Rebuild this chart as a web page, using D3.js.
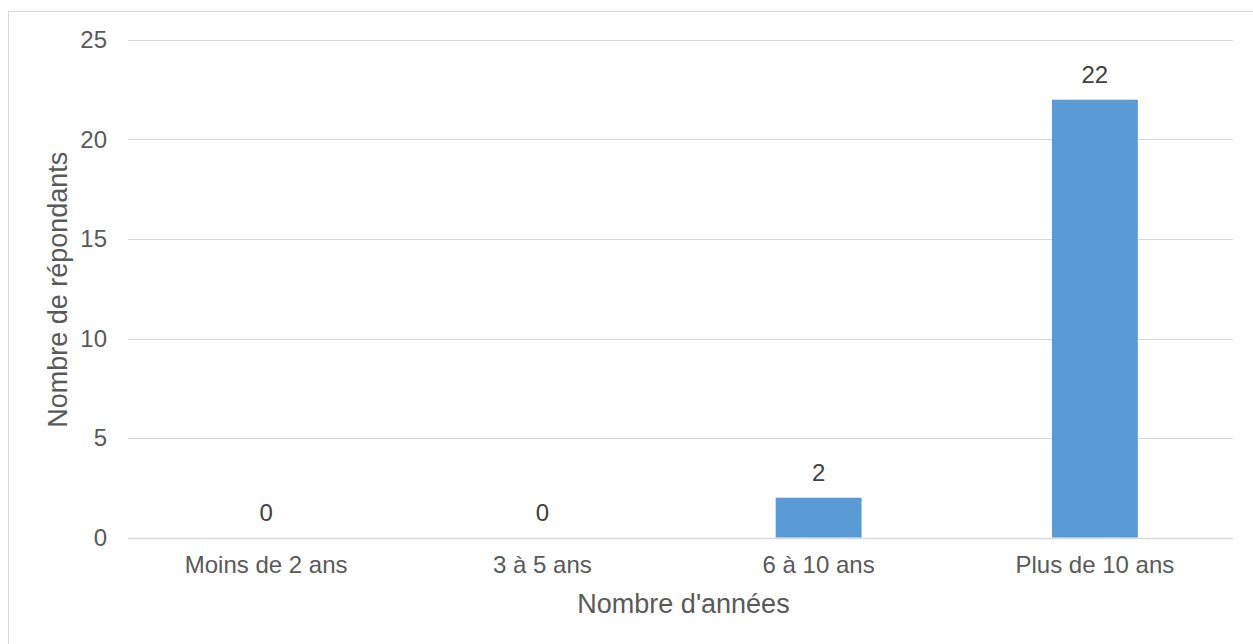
<!DOCTYPE html>
<html>
<head>
<meta charset="utf-8">
<script src="https://cdn.jsdelivr.net/npm/d3@7"></script>
<style>
  html, body { margin: 0; padding: 0; background: #fff; }
  svg { display: block; }
  text { font-family: "Liberation Sans", Arial, sans-serif; }
</style>
</head>
<body>
<svg id="chart" width="1253" height="644"></svg>
<script>
const categories = ["Moins de 2 ans", "3 à 5 ans", "6 à 10 ans", "Plus de 10 ans"];
const values = [0, 0, 2, 22];
const yTicks = [0, 5, 10, 15, 20, 25];
const xTitle = "Nombre d'années";
const yTitle = "Nombre de répondants";

const svg = d3.select("#chart");

// chart frame
svg.append("rect")
  .attr("x", 8.5).attr("y", 11.5)
  .attr("width", 1270).attr("height", 660)
  .attr("fill", "#fff").attr("stroke", "#D9D9D9").attr("stroke-width", 1);

const plot = { left: 128, right: 1233, top: 40, bottom: 537.5 };

const x = d3.scaleBand().domain(categories).range([plot.left, plot.right]).padding(0);
const y = d3.scaleLinear().domain([0, 25]).range([plot.bottom, plot.top]);

// gridlines
svg.append("g").selectAll("line").data(yTicks).join("line")
  .attr("x1", plot.left).attr("x2", plot.right)
  .attr("y1", d => Math.round(y(d)) + 0.5).attr("y2", d => Math.round(y(d)) + 0.5)
  .attr("stroke", "#D9D9D9").attr("stroke-width", d => d === 0 ? 1.5 : 1);

// y tick labels
svg.append("g").selectAll("text").data(yTicks).join("text")
  .attr("x", 107).attr("y", d => y(d))
  .attr("dy", "0.35em")
  .attr("text-anchor", "end")
  .attr("font-size", 24).attr("fill", "#595959")
  .text(d => d);

// bars
const barFrac = 0.311;
svg.append("g").selectAll("rect").data(values).join("rect")
  .attr("x", (d, i) => x(categories[i]) + x.bandwidth() * (1 - barFrac) / 2)
  .attr("width", x.bandwidth() * barFrac)
  .attr("y", d => y(d))
  .attr("height", d => y(0) - y(d))
  .attr("fill", "#5B9BD5");

// data labels
svg.append("g").selectAll("text").data(values).join("text")
  .attr("x", (d, i) => x(categories[i]) + x.bandwidth() / 2)
  .attr("y", d => y(d) - 17)
  .attr("text-anchor", "middle")
  .attr("font-size", 24).attr("fill", "#404040")
  .text(d => d);

// x tick labels
svg.append("g").selectAll("text").data(categories).join("text")
  .attr("x", d => x(d) + x.bandwidth() / 2)
  .attr("y", 573)
  .attr("text-anchor", "middle")
  .attr("font-size", 24).attr("fill", "#595959")
  .text(d => d);

// axis titles
svg.append("text")
  .attr("x", (plot.left + plot.right) / 2 + 3).attr("y", 613)
  .attr("text-anchor", "middle")
  .attr("font-size", 27).attr("fill", "#595959")
  .text(xTitle);

svg.append("text")
  .attr("transform", `translate(67, ${(plot.top + plot.bottom) / 2 + 1}) rotate(-90)`)
  .attr("text-anchor", "middle")
  .attr("font-size", 27).attr("fill", "#595959")
  .text(yTitle);
</script>
</body>
</html>
